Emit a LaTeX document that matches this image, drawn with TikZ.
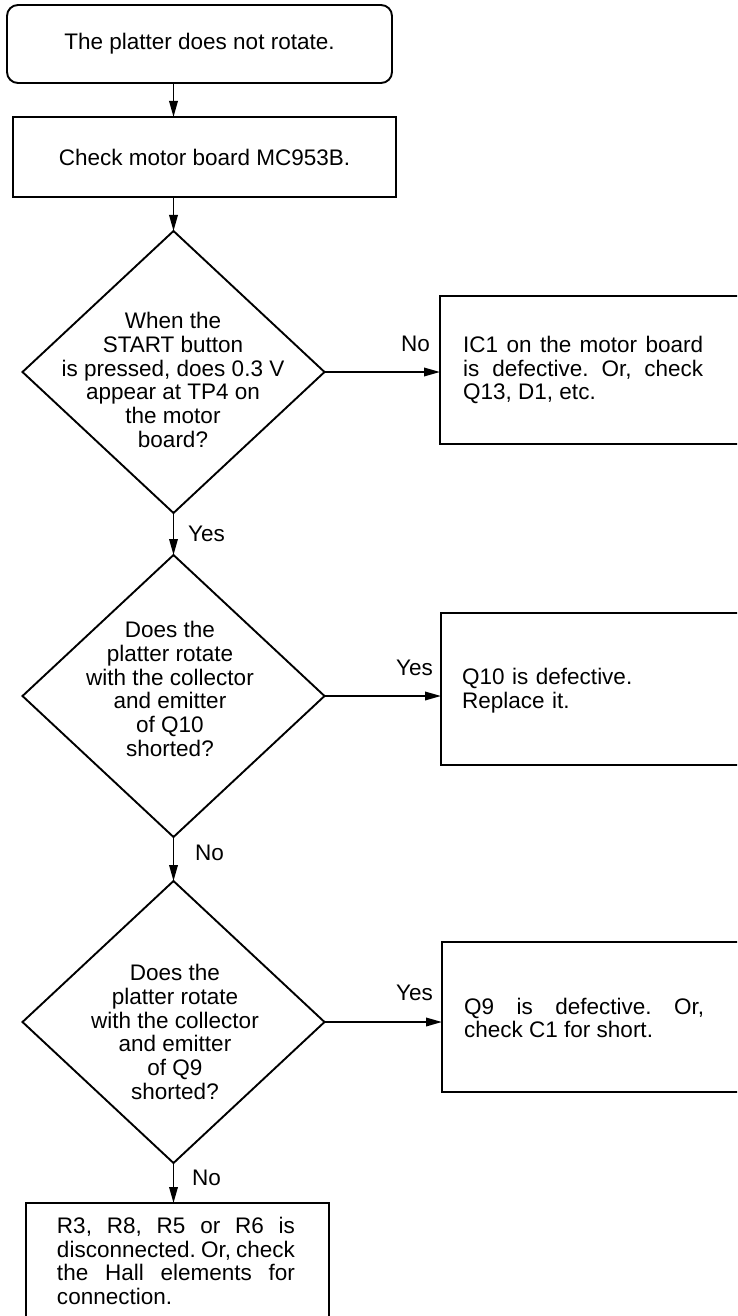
\documentclass[tikz,border=0pt]{standalone}
\usepackage{fontspec}
\setmainfont{Liberation Sans}
\usetikzlibrary{shapes.geometric,arrows.meta}
\tolerance=9999
\hbadness=10000
\hfuzz=6pt
\hyphenpenalty=10000
\exhyphenpenalty=10000
\frenchspacing
\begin{document}
\begin{tikzpicture}[x=1bp,y=-1bp,
  every node/.style={font=\fontsize{22.5bp}{23.7bp}\selectfont\frenchspacing},
  arr/.style={line width=1.9bp, -{Triangle[length=16bp,width=8.5bp]}},
  box/.style={draw, line width=1.9bp, rectangle, inner sep=0pt, outer sep=0pt},
  dia/.style={draw, line width=1.9bp, diamond, inner sep=0pt, outer sep=0pt,
              minimum width=302bp, minimum height=282bp},
  qtext/.style={align=center, inner sep=0pt},
  rtext/.style={text width=240bp, align=justify, inner sep=0pt, anchor=west},
  lab/.style={inner sep=0pt}
]
\useasboundingbox (0,0) rectangle (737,1316);
\clip (0,0) rectangle (737,1316);

% start and first step
\node[box, rounded corners=11bp, minimum width=385bp, minimum height=78bp] (start) at (199.5,44) {The platter does not rotate.};
\node[box, minimum width=383bp, minimum height=80bp] (check) at (204.5,157) {Check motor board MC953B.};

% decision 1
\node[dia] (d1) at (173.5,372) {};
\node[qtext] (d1t) at (173,380) {When the\\START button\\is pressed, does 0.3 V\\appear at TP4 on\\the motor\\board?};

% decision 2
\node[dia] (d2) at (173.5,696) {};
\node[qtext] (d2t) at (170,689) {Does the\\platter rotate\\with the collector\\and emitter\\of Q10\\shorted?};

% decision 3
\node[dia] (d3) at (173.5,1022) {};
\node[qtext] (d3t) at (175,1032) {Does the\\platter rotate\\with the collector\\and emitter\\of Q9\\shorted?};

% right-hand result boxes (open to the right edge)
\node[box, anchor=north west, minimum width=330bp, minimum height=148bp] (ic1) at (440,296) {};
\node[rtext] (ic1t) at (463,370) {IC1 on the motor board is defective. Or, check Q13, D1, etc.};

\node[box, anchor=north west, minimum width=330bp, minimum height=152bp] (q10) at (441,613) {};
\node[rtext, align=left] (q10t) at (462,691) {Q10 is defective.\\Replace it.};

\node[box, anchor=north west, minimum width=330bp, minimum height=150bp] (q9) at (442,942) {};
\node[rtext] (q9t) at (464,1018) {Q9 is defective. Or, check C1 for short.};

% bottom result box (runs off the bottom edge)
\node[box, anchor=north west, minimum width=303bp, minimum height=150bp] (r3) at (26,1203) {};
\node[qtext, text width=238bp, align=justify] (r3t) at (176,1261) {R3, R8, R5 or R6 is disconnected. Or, check the Hall elements for connection.};

% connectors
\draw[arr] (start.south -| d1.north) -- (check.north -| d1.north);
\draw[arr] (check.south -| d1.north) -- (d1.north);
\draw[arr] (d1.south) -- (d2.north);
\draw[arr] (d2.south) -- (d3.north);
\draw[arr] (d3.south) -- (d3.south |- r3.north);
\draw[arr] (d1.east) -- (d1.east -| ic1.west);
\draw[arr] (d2.east) -- (d2.east -| q10.west);
\draw[arr] (d3.east) -- (d3.east -| q9.west);

% labels
\node[lab, anchor=base east] (lno1) at (430,351) {No};
\node[lab, anchor=base east] (lyes2) at (433,675) {Yes};
\node[lab, anchor=base east] (lyes3) at (433,1000) {Yes};
\node[lab, anchor=base west] (lyes1) at (188,541) {Yes};
\node[lab, anchor=base west] (lno2) at (195,860) {No};
\node[lab, anchor=base west] (lno3) at (192,1185) {No};
\end{tikzpicture}
\end{document}
